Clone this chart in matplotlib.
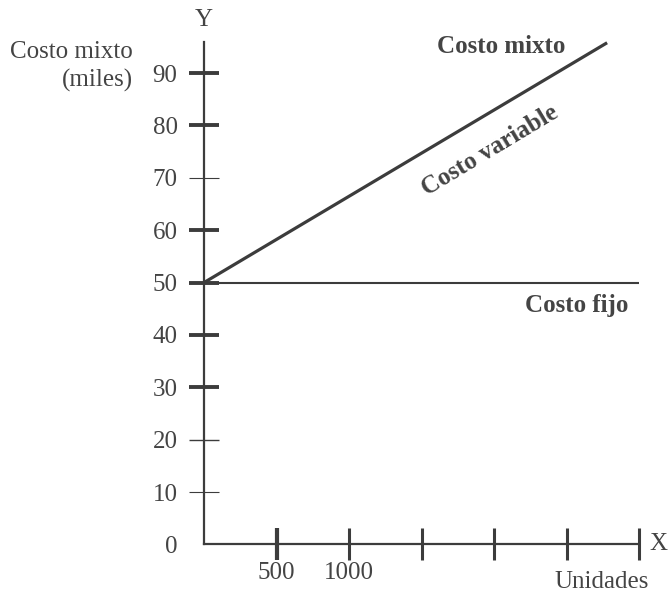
import matplotlib
matplotlib.use("Agg")
import matplotlib.pyplot as plt

# cost data (miles) against units produced
units = [0, 2780]
mixed_cost = [50, 95.8]
fixed_units = [0, 3000]
fixed_cost = [50, 50]

y_ticks = [0, 10, 20, 30, 40, 50, 60, 70, 80, 90]
y_labels = ["0", "10", "20", "30", "40", "50", "60", "70", "80", "90"]
x_ticks = [500, 1000, 1500, 2000, 2500, 3000]
x_labels = ["500", "1000", "", "", "", ""]

W, H = 669, 593
ink = "#3c3c3c"
txt = "#444444"
plt.rcParams["font.family"] = ["Liberation Serif", "DejaVu Serif"]

fig = plt.figure(figsize=(W / 100, H / 100), dpi=100)
ax = fig.add_axes([204 / W, (H - 544.4) / H, 435 / W, 502.7 / H])

ax.plot(fixed_units, fixed_cost, color=ink, lw=1.5, clip_on=False, solid_capstyle="butt")
ax.plot(units, mixed_cost, color=ink, lw=2.3, clip_on=False, solid_capstyle="butt")

ax.set_xlim(0, 3000)
ax.set_ylim(0, 96)
for s in ("top", "right"):
    ax.spines[s].set_visible(False)
for s in ("left", "bottom"):
    ax.spines[s].set_color(ink)
    ax.spines[s].set_linewidth(1.6)

ax.set_yticks(y_ticks, y_labels)
ax.set_xticks(x_ticks, x_labels)
ax.tick_params(axis="y", direction="inout", length=21, width=2.8, color=ink,
               pad=8.5, labelsize=18, labelcolor=txt)
ax.tick_params(axis="x", direction="inout", length=23, width=2.2, color=ink,
               pad=1, labelsize=18, labelcolor=txt)

# individual tick styles on the y axis
yt = ax.yaxis.get_major_ticks()
yt[0].tick1line.set_visible(False)
for i in (1, 7):
    yt[i].tick1line.set_markeredgewidth(0.8)
    yt[i].tick1line.set_color("#c4c4c4")
yt[2].tick1line.set_markeredgewidth(1.0)
yt[2].tick1line.set_color("#333333")
ax.xaxis.get_major_ticks()[0].tick1line.set_markeredgewidth(3.0)

# axis names
def fx(x):
    return x / W

def fy(y):
    return 1 - y / H

fig.text(fx(204), fy(20), "Y", fontsize=18, color=txt, ha="center", va="center")
fig.text(fx(658), fy(544), "X", fontsize=18, color=txt, ha="center", va="center")
fig.text(fx(133), fy(52), "Costo mixto", fontsize=18, color=txt, ha="right", va="center")
fig.text(fx(133), fy(80), "(miles)", fontsize=18, color=txt, ha="right", va="center")
fig.text(fx(602), fy(582), "Unidades", fontsize=18, color=txt, ha="center", va="center")

# line labels
ax.text(2048, 95.0, "Costo mixto", fontsize=18, fontweight="bold", color=txt,
        ha="center", va="center")
ax.text(1972, 75.3, "Costo variable", fontsize=18, fontweight="bold", color=txt,
        ha="center", va="center", rotation=31, rotation_mode="anchor")
ax.text(2572, 45.7, "Costo fijo", fontsize=18, fontweight="bold", color=txt,
        ha="center", va="center")

fig.savefig("out.png", dpi=100)
